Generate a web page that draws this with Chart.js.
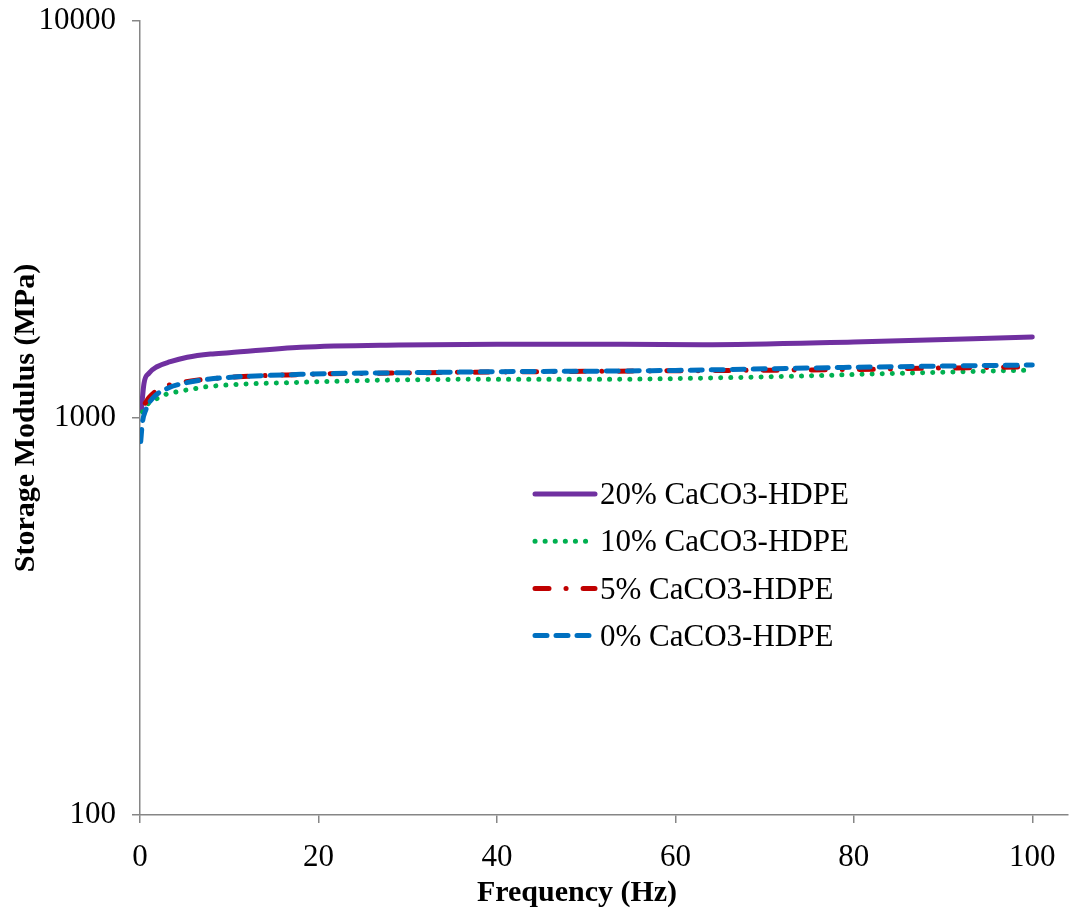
<!DOCTYPE html>
<html>
<head>
<meta charset="utf-8">
<script src="https://cdn.jsdelivr.net/npm/chart.js@4.4.1/dist/chart.umd.min.js"></script>
<style>
  html, body { margin: 0; padding: 0; background: #ffffff; }
  #wrap { width: 1070px; height: 917px; }
</style>
</head>
<body>
<div id="wrap"><canvas id="chart" width="1070" height="917"></canvas></div>
<script>
// Storage modulus vs frequency for HDPE filled with CaCO3
const seriesNames = ['20% CaCO3-HDPE', '10% CaCO3-HDPE', '5% CaCO3-HDPE', '0% CaCO3-HDPE'];

const freq20 = [0.15, 0.45, 1.0, 1.9, 3.4, 5.3, 7.9, 10, 18, 29, 40, 54, 63, 80, 100];
const mod20  = [1047, 1223, 1296, 1346, 1386, 1422, 1449, 1460, 1507, 1527, 1533, 1533, 1530, 1555, 1600];

const freq10 = [0.3, 0.6, 1.0, 1.6, 2.7, 4.2, 6.4, 7.5, 18, 29, 40, 53, 63, 74, 85, 100];
const mod10  = [1035, 1066, 1091, 1110, 1143, 1165, 1188, 1199, 1230, 1247, 1252, 1252, 1260, 1276, 1296, 1320];

const freq5 = [0.6, 1.0, 2.3, 4.2, 7.6, 18, 29, 40, 60, 80, 88, 100];
const mod5  = [1090, 1125, 1188, 1223, 1254, 1287, 1298, 1306, 1315, 1325, 1334, 1345];

const freq0 = [0.08, 0.26, 0.64, 1.4, 3.1, 4.9, 7.6, 18, 29, 40, 53, 60, 80, 100];
const mod0  = [872, 970, 1047, 1121, 1188, 1223, 1252, 1288, 1300, 1308, 1313, 1318, 1342, 1360];

const xTicks = [0, 20, 40, 60, 80, 100];
const yTicks = [100, 1000, 10000];
const xTitle = 'Frequency (Hz)';
const yTitle = 'Storage Modulus (MPa)';

const pairs = (xs, ys) => xs.map((x, i) => ({ x: x, y: ys[i] }));

const axisColor = '#868686';
const serif = "'Liberation Serif', 'Times New Roman', serif";

const datasets = [
  { label: seriesNames[0], data: pairs(freq20, mod20), borderColor: '#7030A0', borderWidth: 5, order: 3 },
  { label: seriesNames[1], data: pairs(freq10, mod10), borderColor: '#00B050', borderWidth: 5, borderDash: [0.1, 10], order: 2 },
  { label: seriesNames[2], data: pairs(freq5, mod5),   borderColor: '#C00000', borderWidth: 5, borderDash: [14, 17, 0.1, 17], order: 1 },
  { label: seriesNames[3], data: pairs(freq0, mod0),   borderColor: '#0070C0', borderWidth: 5, borderDash: [12, 9], order: 0 }
].map(d => Object.assign(d, {
  pointRadius: 0,
  fill: false,
  borderCapStyle: 'round',
  borderJoinStyle: 'round',
  cubicInterpolationMode: 'monotone'
}));

// Key drawn inside the plot, each entry showing the series' own stroke style,
// plus the frequency axis title set slightly left of the plot centre.
const seriesKey = {
  id: 'seriesKey',
  afterDraw(chart) {
    const ctx = chart.ctx;
    const x0 = 535, x1 = 595, tx = 600, y0 = 494, step = 47.2;
    ctx.save();
    chart.data.datasets.forEach((ds, i) => {
      const y = y0 + i * step;
      ctx.beginPath();
      ctx.setLineDash(ds.borderDash || []);
      ctx.lineCap = 'round';
      ctx.lineWidth = ds.borderWidth;
      ctx.strokeStyle = ds.borderColor;
      ctx.moveTo(x0, y);
      ctx.lineTo(x1, y);
      ctx.stroke();
      ctx.setLineDash([]);
      ctx.fillStyle = '#000000';
      ctx.font = '31px ' + serif;
      ctx.textAlign = 'left';
      ctx.textBaseline = 'middle';
      ctx.fillText(ds.label, tx, y + 2);
    });
    ctx.font = 'bold 30px ' + serif;
    ctx.textAlign = 'center';
    ctx.textBaseline = 'middle';
    ctx.fillStyle = '#000000';
    ctx.fillText(xTitle, 577, 893);
    ctx.restore();
  }
};

new Chart(document.getElementById('chart'), {
  type: 'line',
  data: { datasets: datasets },
  plugins: [seriesKey],
  options: {
    responsive: false,
    animation: false,
    devicePixelRatio: 1,
    layout: { padding: { top: 21, right: 2, left: 0, bottom: 0 } },
    plugins: {
      legend: { display: false },
      tooltip: { enabled: false }
    },
    scales: {
      x: {
        type: 'linear',
        min: 0,
        max: 104,
        afterBuildTicks: s => { s.ticks = xTicks.map(v => ({ value: v })); },
        afterFit: s => { s.height = 102; s.paddingLeft = 0; s.paddingRight = 0; },
        ticks: {
          color: '#000000',
          font: { family: serif, size: 31 },
          padding: 16,
          maxRotation: 0,
          autoSkip: false,
          callback: v => String(v)
        },
        grid: { drawOnChartArea: false, drawTicks: true, tickLength: 8, color: axisColor, lineWidth: 1.5 },
        border: { color: axisColor, width: 1.5 }
      },
      y: {
        type: 'logarithmic',
        min: 100,
        max: 10000,
        afterBuildTicks: s => { s.ticks = yTicks.map(v => ({ value: v })); },
        afterFit: s => { s.width = 140; s.paddingTop = 0; s.paddingBottom = 0; },
        ticks: {
          color: '#000000',
          font: { family: serif, size: 31 },
          padding: 16,
          autoSkip: false,
          callback: v => String(v)
        },
        grid: { drawOnChartArea: false, drawTicks: true, tickLength: 8, color: axisColor, lineWidth: 1.5 },
        border: { color: axisColor, width: 1.5 },
        title: {
          display: true,
          text: yTitle,
          color: '#000000',
          font: { family: serif, size: 30, weight: 'bold' },
          padding: { top: 8, bottom: 0 }
        }
      }
    }
  }
});
</script>
</body>
</html>
